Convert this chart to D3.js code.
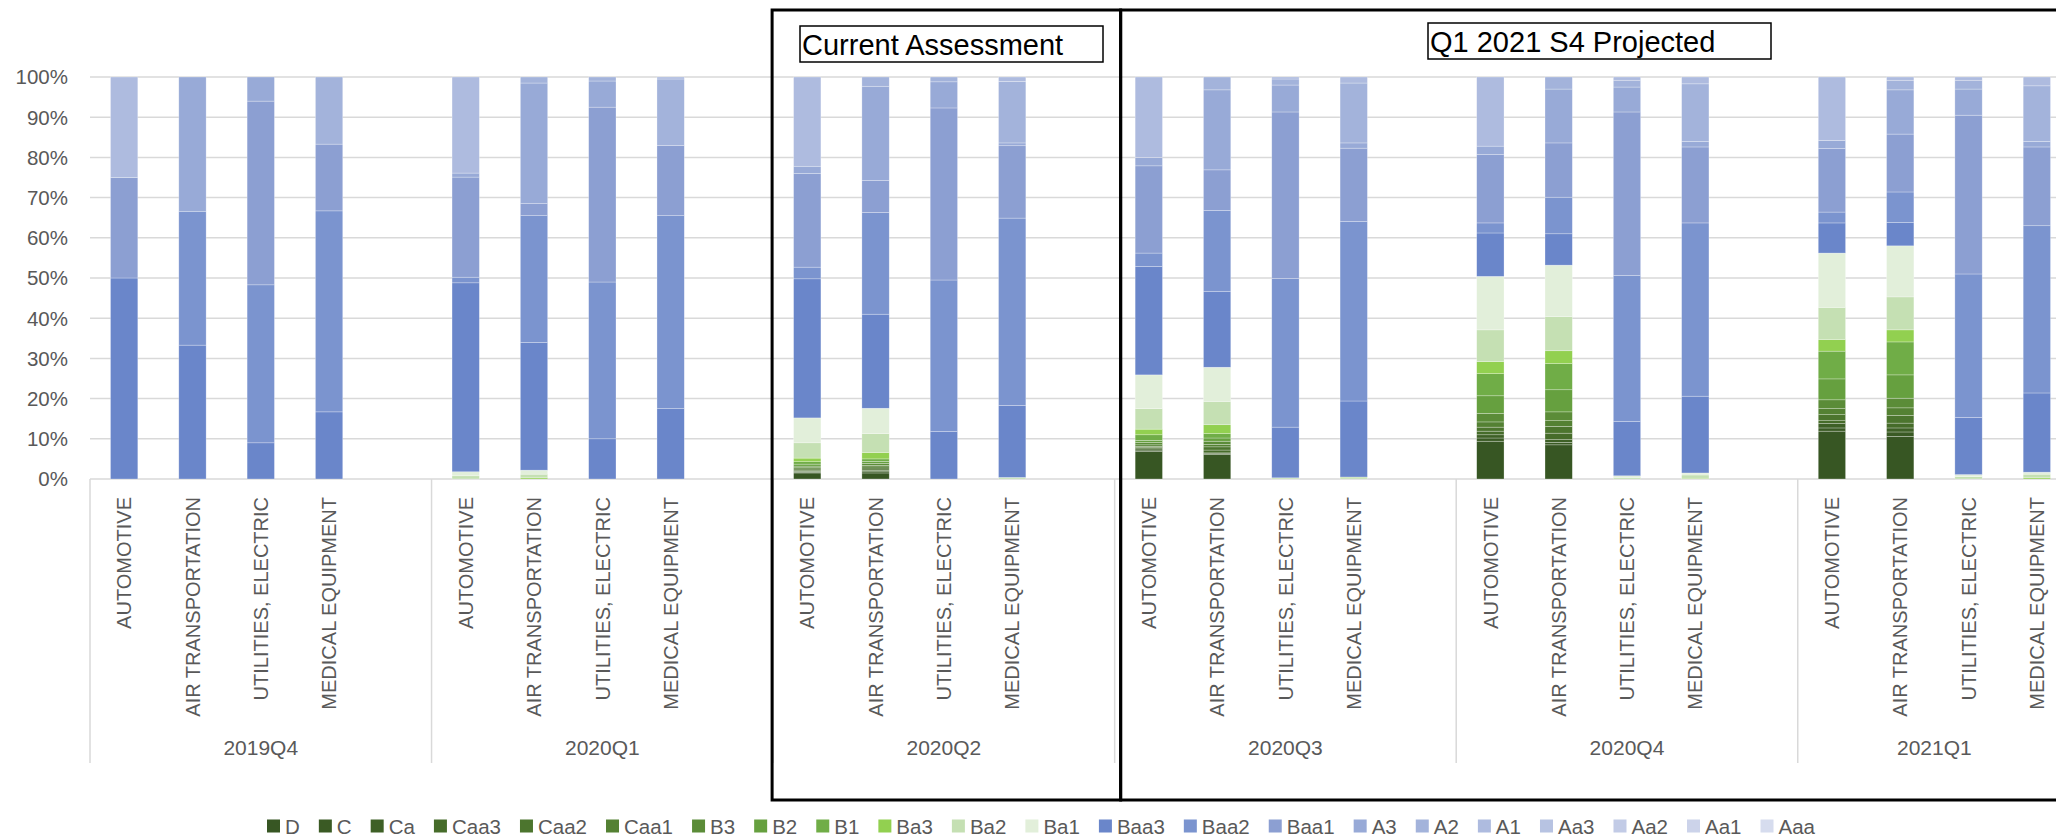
<!DOCTYPE html>
<html>
<head>
<meta charset="utf-8">
<script src="https://cdn.jsdelivr.net/npm/d3@7"></script>
<style>
  body { margin: 0; background: #fff; }
  svg { display: block; font-family: "Liberation Sans", Arial, sans-serif; }
  .tick-label, .cat-label, .group-label, .legend-label { fill: #595959; }
</style>
</head>
<body>
<svg></svg>
<script>
// rating buckets, bottom of the stack first
const ratings = ["D","C","Ca","Caa3","Caa2","Caa1","B3","B2","B1","Ba3","Ba2","Ba1",
                 "Baa3","Baa2","Baa1","A3","A2","A1","Aa3","Aa2","Aa1","Aaa"]
const ratingColors = ["#375623","#3a5a24","#3e6026","#466c2a","#4c752e","#548133","#5b8c38","#66a03f","#70ad47","#92d050","#c5e0b3","#e2efda",
                      "#6a86ca","#7b94cf","#8c9fd2","#98aad7","#a3b3db","#aebbdf","#b7c3e2","#c2cbe6","#ccd3ea","#d6dcee"]
const categories = ["AUTOMOTIVE","AIR TRANSPORTATION","UTILITIES, ELECTRIC","MEDICAL EQUIPMENT"]
const quarters = ["2019Q4","2020Q1","2020Q2","2020Q3","2020Q4","2021Q1"]
const yTicks = [0,0.1,0.2,0.3,0.4,0.5,0.6,0.7,0.8,0.9,1]

// shares (%) per category, in the order of ratings
//            D    C    Ca  Caa3 Caa2 Caa1  B3   B2   B1  Ba3  Ba2  Ba1  | Baa3 Baa2 Baa1  A3   A2   A1  Aa3 Aa2 Aa1 Aaa
const q2019Q4 = [
  [0,0,0,0,0,0,0,0,0,0,0,0,                       50,0,25,0,0,25,0,0,0,0],
  [0,0,0,0,0,0,0,0,0,0,0,0,                       33.3,33.3,0,33.4,0,0,0,0,0,0],
  [0,0,0,0,0,0,0,0,0,0,0,0,                       9,39.3,45.7,6,0,0,0,0,0,0],
  [0,0,0,0,0,0,0,0,0,0,0,0,                       16.7,50,16.6,0,16.7,0,0,0,0,0]
]
const q2020Q1 = [
  [0,0,0,0,0,0,0,0,0,0,0.8,1.0,                   47.0,1.4,24.9,1.0,0,23.9,0,0,0,0],
  [0,0,0,0,0,0,0,0,0,0.3,0.9,1.0,                 31.8,31.5,3.0,30.0,1.5,0,0,0,0,0],
  [0,0,0,0,0,0,0,0,0,0,0,0,                       10,39,43.5,6.5,1.0,0,0,0,0,0],
  [0,0,0,0,0,0,0,0,0,0,0,0,                       17.5,48,17.5,0,16.5,0.5,0,0,0,0]
]
const q2020Q2 = [
  [1.5,0.2,0.2,0.3,0.3,0.3,0.4,0.5,0.6,0.9,3.8,6.2, 34.6,2.9,23.3,1.8,0,22.2,0,0,0,0],
  [1.5,0.3,0.3,0.4,0.5,0.4,0.5,0.5,0.6,1.6,4.7,6.3, 23.4,25.3,8.0,23.4,2.3,0,0,0,0,0],
  [0,0,0,0,0,0,0,0,0,0,0,0,                       11.8,37.7,42.8,6.5,1.2,0,0,0,0,0],
  [0,0,0,0,0,0,0,0,0,0,0.4,0,                     17.9,46.6,18.0,0.7,15.3,1.1,0,0,0,0]
]
const q2020Q3 = [
  [6.9,0.3,0.3,0.3,0.3,0.4,0.6,0.5,1.4,1.4,5.1,8.4, 27.0,3.3,21.7,2.1,0,20.0,0,0,0,0],
  [6.1,0.2,0.2,0.7,0.8,0.6,0.8,0.8,1.1,2.2,5.8,8.5, 18.9,20.1,10.1,19.9,3.2,0,0,0,0,0],
  [0,0,0,0,0,0,0,0,0,0,0.3,0,                     12.6,37.0,41.4,6.7,1.5,0.5,0,0,0,0],
  [0,0,0,0,0,0,0,0,0,0,0.5,0,                     18.9,44.7,18.2,1.3,14.9,1.5,0,0,0,0]
]
const q2020Q4 = [
  [9.4,0.8,0.8,0.9,1.0,1.3,2.1,4.4,5.5,3.0,7.9,13.3, 10.8,2.5,17.0,2.1,0,17.2,0,0,0,0],
  [8.5,0.6,0.7,1.6,1.7,1.4,2.2,5.5,6.5,3.2,8.5,12.8, 7.8,9.1,13.5,13.4,3.0,0,0,0,0,0],
  [0,0,0,0,0,0,0,0,0,0,0.4,0.4,                   13.5,36.3,40.7,6.2,1.7,0.8,0,0,0,0],
  [0,0,0,0,0,0,0,0,0,0.2,0.8,0.5,                 19.1,43.1,18.9,1.4,14.3,1.7,0,0,0,0]
]
const q2021Q1 = [
  [11.9,0.8,1.1,0.7,1.5,1.5,2.2,5.2,6.9,2.9,8.0,13.5, 7.5,2.7,15.8,2.0,0,15.8,0,0,0,0],
  [10.6,1.1,1.0,1.2,1.9,1.9,2.4,5.8,8.2,3.0,8.2,12.7, 5.8,7.6,14.4,11.0,2.4,0.8,0,0,0,0],
  [0,0,0,0,0,0,0,0,0,0,0.6,0.5,                   14.2,35.7,39.5,6.5,2.2,0.8,0,0,0,0],
  [0,0,0,0,0,0,0,0,0,0.3,0.9,0.5,                 19.7,41.6,19.6,1.4,13.8,2.2,0,0,0,0]
]
const quarterShares = [q2019Q4, q2020Q1, q2020Q2, q2020Q3, q2020Q4, q2021Q1]

const width = 2056, height = 837
const svg = d3.select("svg").attr("width", width).attr("height", height)

// build table: each quarter gets its 4 categories plus a blank slot (not the last one)
const rows = []
const slots = []
quarters.forEach((q, qi) => {
  categories.forEach((c, ci) => {
    const row = { slot: q + "|" + c, quarter: q, category: c }
    ratings.forEach((r, ri) => { row[r] = quarterShares[qi][ci][ri] })
    rows.push(row)
    slots.push(row.slot)
  })
  if (qi < quarters.length - 1) slots.push(q + "|blank")
})

const x = d3.scaleBand().domain(slots).range([90, 2071]).padding(0)
const y = d3.scaleLinear().domain([0, 1]).range([479, 77])
const bw = x.bandwidth()

// gridlines
svg.append("g")
  .selectAll("line")
  .data(yTicks)
  .join("line")
  .attr("x1", 90).attr("x2", 2071)
  .attr("y1", d => y(d)).attr("y2", d => y(d))
  .attr("stroke", "#d9d9d9")
  .attr("stroke-width", 1.5)

// y labels
svg.append("g")
  .selectAll("text")
  .data(yTicks)
  .join("text")
  .attr("class", "tick-label")
  .attr("x", 68)
  .attr("y", d => y(d))
  .attr("dy", "0.36em")
  .attr("text-anchor", "end")
  .attr("font-size", 20.5)
  .text(d3.format(".0%"))

// stacked bars
const stacked = d3.stack().keys(ratings).offset(d3.stackOffsetExpand)(rows)

svg.append("g")
  .selectAll("g")
  .data(stacked)
  .join("g")
  .attr("fill", (d, i) => ratingColors[i])
  .selectAll("rect")
  .data(d => d)
  .join("rect")
  .attr("x", d => x(d.data.slot) + bw * 0.3)
  .attr("width", bw * 0.4)
  .attr("y", d => y(d[1]))
  .attr("height", d => Math.max(0, y(d[0]) - y(d[1])))
  .attr("stroke", "#ffffff")
  .attr("stroke-opacity", 0.45)
  .attr("stroke-width", 0.6)

// category labels
svg.append("g")
  .selectAll("text")
  .data(rows)
  .join("text")
  .attr("class", "cat-label")
  .attr("transform", d => `translate(${x(d.slot) + bw / 2},497) rotate(-90)`)
  .attr("dy", "0.36em")
  .attr("text-anchor", "end")
  .attr("font-size", 20)
  .text(d => d.category)

// quarter separators and labels
const groupStart = quarters.map(q => x(q + "|" + categories[0]))
const groupEnd = groupStart.slice(1).concat([x.range()[1]])

svg.append("g")
  .selectAll("line")
  .data(groupStart.concat([x.range()[1]]))
  .join("line")
  .attr("x1", d => d).attr("x2", d => d)
  .attr("y1", 479).attr("y2", 763)
  .attr("stroke", "#d9d9d9")
  .attr("stroke-width", 1.5)

svg.append("g")
  .selectAll("text")
  .data(quarters)
  .join("text")
  .attr("class", "group-label")
  .attr("x", (d, i) => (groupStart[i] + groupEnd[i]) / 2)
  .attr("y", 755)
  .attr("text-anchor", "middle")
  .attr("font-size", 21)
  .text(d => d)

// annotation frames
const frames = svg.append("g").attr("fill", "none").attr("stroke", "#000")
frames.append("rect")
  .attr("x", groupStart[2] - 1).attr("y", 10)
  .attr("width", groupStart[3] + 6 - (groupStart[2] - 1)).attr("height", 790)
  .attr("stroke-width", 3)
frames.append("rect")
  .attr("x", groupStart[3] + 6).attr("y", 10)
  .attr("width", 1000).attr("height", 790)
  .attr("stroke-width", 3)

const notes = [
  { text: "Current Assessment", x: 800, y: 26, w: 303, h: 36 },
  { text: "Q1 2021 S4 Projected", x: 1428, y: 23, w: 343, h: 36 }
]
const noteG = svg.append("g").selectAll("g").data(notes).join("g")
noteG.append("rect")
  .attr("x", d => d.x).attr("y", d => d.y)
  .attr("width", d => d.w).attr("height", d => d.h)
  .attr("fill", "#fff").attr("stroke", "#000").attr("stroke-width", 1.5)
noteG.append("text")
  .attr("x", d => d.x + 2).attr("y", d => d.y + 29)
  .attr("font-size", 29)
  .attr("fill", "#000")
  .text(d => d.text)

// legend
const legend = svg.append("g")
const items = legend.selectAll("g").data(ratings).join("g")
items.append("rect")
  .attr("width", 13).attr("height", 13)
  .attr("y", 819.5)
  .attr("fill", (d, i) => ratingColors[i])
items.append("text")
  .attr("class", "legend-label")
  .attr("x", 18)
  .attr("y", 833.5)
  .attr("font-size", 20.5)
  .text(d => d)

const widths = []
items.select("text").each(function () { widths.push(this.getComputedTextLength()) })
const span = 1548
const spacing = (span - d3.sum(widths, w => 18 + w)) / (ratings.length - 1)
let lx = 1041 - span / 2
items.each(function (d, i) {
  d3.select(this).attr("transform", `translate(${lx},0)`)
  lx += 18 + widths[i] + spacing
})
</script>
</body>
</html>
